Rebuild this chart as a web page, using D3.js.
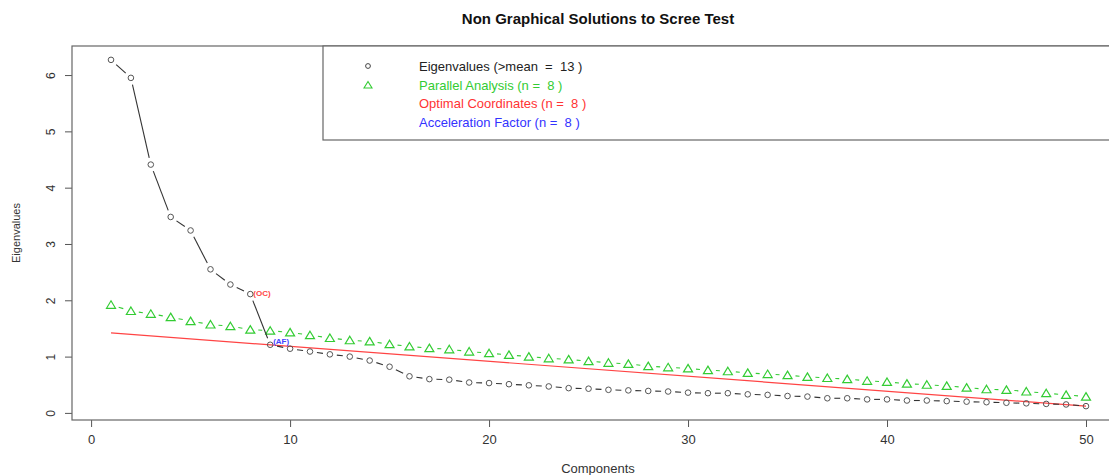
<!DOCTYPE html>
<html>
<head>
<meta charset="utf-8">
<script src="https://cdn.jsdelivr.net/npm/d3@7"></script>
<style>
  body { margin: 0; background: #fff; }
  text { font-family: "Liberation Sans", Arial, sans-serif; }
</style>
</head>
<body>
<div id="chart-area"></div>
<script>

var width = 1109,
    height = 475;

// components 1..50
var components = d3.range(1, 51);

// observed eigenvalues
var eigenvalues = [6.27, 5.95, 4.41, 3.48, 3.24, 2.55, 2.28, 2.11, 1.21, 1.14,
  1.09, 1.04, 1.00, 0.93, 0.82, 0.65, 0.60, 0.59, 0.54, 0.53,
  0.51, 0.49, 0.47, 0.44, 0.43, 0.41, 0.40, 0.39, 0.38, 0.36,
  0.35, 0.35, 0.33, 0.32, 0.30, 0.29, 0.26, 0.26, 0.24, 0.24,
  0.22, 0.22, 0.21, 0.20, 0.19, 0.18, 0.17, 0.16, 0.15, 0.12];

// parallel analysis
var parallel = [1.92, 1.81, 1.76, 1.70, 1.63, 1.57, 1.54, 1.48, 1.46, 1.43,
  1.38, 1.33, 1.29, 1.27, 1.22, 1.18, 1.15, 1.13, 1.09, 1.06,
  1.03, 1.00, 0.97, 0.95, 0.92, 0.89, 0.87, 0.83, 0.81, 0.79,
  0.76, 0.74, 0.71, 0.69, 0.67, 0.64, 0.62, 0.60, 0.57, 0.55,
  0.52, 0.50, 0.48, 0.45, 0.42, 0.41, 0.38, 0.35, 0.32, 0.29];

// optimal coordinates line (start / end)
var ocX = [1, 50];
var ocY = [1.42, 0.12];

var xTicks = [0, 10, 20, 30, 40, 50];
var yTicks = [0, 1, 2, 3, 4, 5, 6];

var legendLabels = ["Eigenvalues (>mean  =  13 )", "Parallel Analysis (n =  8 )",
  "Optimal Coordinates (n =  8 )", "Acceleration Factor (n =  8 )"];
var legendColors = ["#222", "#33cc33", "#ff3333", "#3333ff"];

var ocIndex = 8, afIndex = 9;

var svg = d3.select("#chart-area").append("svg")
    .attr("width", width)
    .attr("height", height);

svg.append("rect").attr("width", width).attr("height", height).attr("fill", "#fff");

// R style 4% padding
function pad(ext) {
  var d = (ext[1] - ext[0]) * 0.04;
  return [ext[0] - d, ext[1] + d];
}

var x = d3.scaleLinear()
    .domain(pad(d3.extent(components)))
    .range([72, 1125]);

var y = d3.scaleLinear()
    .domain(pad(d3.extent(eigenvalues)))
    .range([420, 46]);

// axes
var xAxis = svg.append("g")
    .attr("transform", "translate(0,420)")
    .call(d3.axisBottom(x).tickValues(xTicks).tickSize(7).tickPadding(8).tickFormat(d3.format("d")));
xAxis.select(".domain").remove();
xAxis.selectAll("line").attr("stroke", "#555");
xAxis.selectAll("text").attr("font-size", 13).attr("fill", "#333")
    .style("font-family", "Liberation Sans, Arial, sans-serif");

var yAxis = svg.append("g")
    .attr("transform", "translate(72,0)")
    .call(d3.axisLeft(y).tickValues(yTicks).tickSize(7).tickFormat(d3.format("d")));
yAxis.select(".domain").remove();
yAxis.selectAll("line").attr("stroke", "#555");
yAxis.selectAll("text")
    .attr("font-size", 12).attr("fill", "#333")
    .style("font-family", "Liberation Sans, Arial, sans-serif")
    .attr("x", 0).attr("dy", 0)
    .attr("text-anchor", "middle")
    .attr("transform", "translate(-21,0) rotate(-90)")
    .attr("dy", "0.35em");

// plot box
svg.append("rect")
    .attr("x", 72).attr("y", 46)
    .attr("width", 1125 - 72).attr("height", 420 - 46)
    .attr("fill", "none")
    .attr("stroke", "#666")
    .attr("stroke-width", 1.2);

// type = "b" lines: segments with gaps around the points
function gapLines(g, values, color, gap) {
  for (var i = 0; i < values.length - 1; i++) {
    var x1 = x(components[i]), y1 = y(values[i]),
        x2 = x(components[i + 1]), y2 = y(values[i + 1]);
    var dx = x2 - x1, dy = y2 - y1, len = Math.sqrt(dx * dx + dy * dy);
    if (len <= 2 * gap) continue;
    var ux = dx / len, uy = dy / len;
    g.append("line")
      .attr("x1", x1 + ux * gap).attr("y1", y1 + uy * gap)
      .attr("x2", x2 - ux * gap).attr("y2", y2 - uy * gap)
      .attr("stroke", color)
      .attr("stroke-width", 1.1);
  }
}

// optimal coordinates line
svg.append("line")
    .attr("x1", x(ocX[0])).attr("y1", y(ocY[0]))
    .attr("x2", x(ocX[1])).attr("y2", y(ocY[1]))
    .attr("stroke", "#ff4444")
    .attr("stroke-width", 1.2);

// parallel analysis
var pa = svg.append("g");
gapLines(pa, parallel, "#33cc33", 8);
pa.selectAll("path")
    .data(parallel)
    .enter()
    .append("path")
    .attr("d", "M0,-4L4.5,3.5L-4.5,3.5Z")
    .attr("transform", (d, i) => "translate(" + x(components[i]) + "," + y(d) + ")")
    .attr("fill", "none")
    .attr("stroke", "#33cc33")
    .attr("stroke-width", 1.2);

// eigenvalues
var ev = svg.append("g");
gapLines(ev, eigenvalues, "#333", 7);
ev.selectAll("circle")
    .data(eigenvalues)
    .enter()
    .append("circle")
    .attr("cx", (d, i) => x(components[i]))
    .attr("cy", d => y(d))
    .attr("r", 2.8)
    .attr("fill", "none")
    .attr("stroke", "#555")
    .attr("stroke-width", 1);

// (OC) and (AF) labels
svg.append("text")
    .attr("x", x(ocIndex) + 3).attr("y", y(eigenvalues[ocIndex - 1]))
    .attr("dy", "0.2em")
    .attr("font-size", 8).attr("font-weight", "bold")
    .attr("fill", "#ff4444")
    .text("(OC)");
svg.append("text")
    .attr("x", x(afIndex) + 3).attr("y", y(eigenvalues[afIndex - 1]) - 1)
    .attr("font-size", 8).attr("font-weight", "bold")
    .attr("fill", "#4444ff")
    .text("(AF)");

// legend
svg.append("rect")
    .attr("x", 323).attr("y", 46)
    .attr("width", 1125 - 323).attr("height", 140 - 46)
    .attr("fill", "#fff")
    .attr("stroke", "#666")
    .attr("stroke-width", 1.2);

var legendY = [66, 85, 103, 122];
svg.append("circle").attr("cx", 368).attr("cy", legendY[0]).attr("r", 2.4)
    .attr("fill", "none").attr("stroke", "#444");
svg.append("path").attr("d", "M0,-3.5L4,3L-4,3Z")
    .attr("transform", "translate(368," + legendY[1] + ")")
    .attr("fill", "none").attr("stroke", "#33cc33").attr("stroke-width", 1.1);

svg.selectAll(".leg")
    .data(legendLabels)
    .enter()
    .append("text")
    .attr("class", "leg")
    .attr("x", 419)
    .attr("y", (d, i) => legendY[i])
    .attr("dy", "0.35em")
    .attr("font-size", 13)
    .attr("fill", (d, i) => legendColors[i])
    .style("white-space", "pre")
    .text(d => d);

// titles
svg.append("text")
    .attr("x", 598).attr("y", 24)
    .attr("text-anchor", "middle")
    .attr("font-size", 15).attr("font-weight", "bold")
    .attr("fill", "#111")
    .text("Non Graphical Solutions to Scree Test");

svg.append("text")
    .attr("x", 598).attr("y", 473)
    .attr("text-anchor", "middle")
    .attr("font-size", 13).attr("fill", "#333")
    .text("Components");

svg.append("text")
    .attr("transform", "translate(20,233) rotate(-90)")
    .attr("text-anchor", "middle")
    .attr("font-size", 11).attr("fill", "#333")
    .text("Eigenvalues");

</script>
</body>
</html>
